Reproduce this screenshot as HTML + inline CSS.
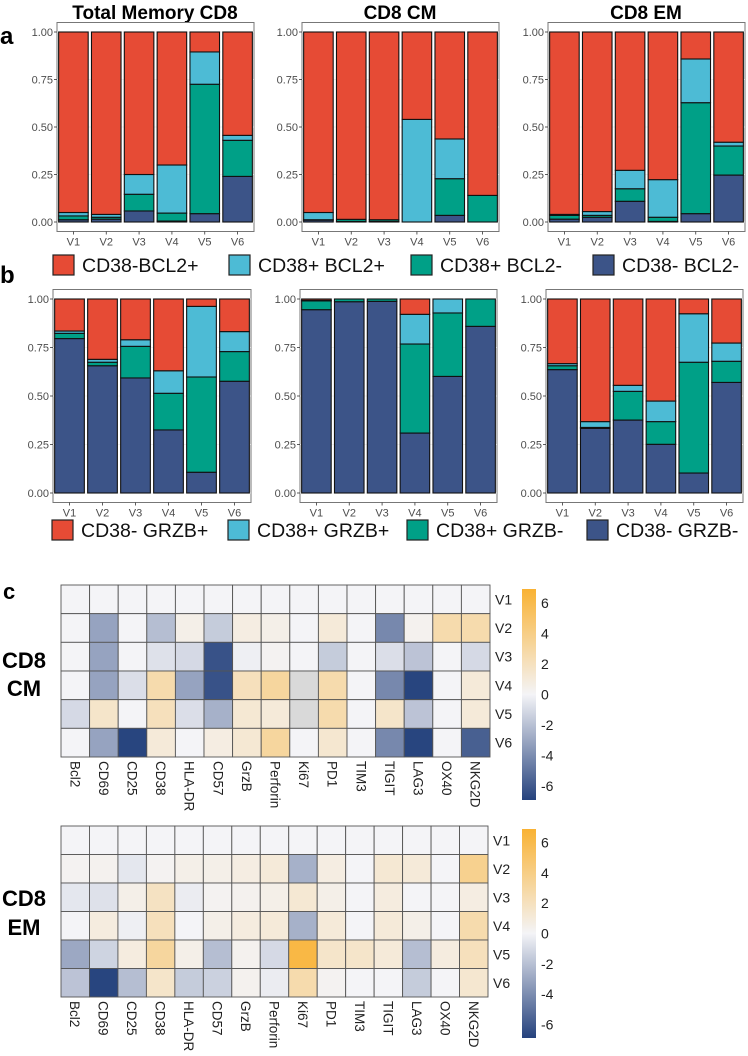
<!DOCTYPE html>
<html><head><meta charset="utf-8">
<style>
html,body{margin:0;padding:0;background:#fff;}
svg{display:block;font-family:"Liberation Sans",Arial,sans-serif;}
</style></head>
<body>
<svg id="fig" width="748" height="1056" viewBox="0 0 748 1056" xmlns="http://www.w3.org/2000/svg">
  <text x="0" y="44" font-size="24" font-weight="bold">a</text>
  <text x="0" y="283" font-size="24" font-weight="bold">b</text>
  <text x="3" y="599" font-size="22" font-weight="bold">c</text>
  <text x="155" y="19" font-size="19" font-weight="bold" text-anchor="middle">Total Memory CD8</text>
  <text x="400" y="19" font-size="19" font-weight="bold" text-anchor="middle">CD8 CM</text>
  <text x="646" y="19" font-size="19" font-weight="bold" text-anchor="middle">CD8 EM</text>
  <text x="24" y="668" font-size="22" font-weight="bold" text-anchor="middle">CD8</text>
  <text x="24" y="696" font-size="22" font-weight="bold" text-anchor="middle">CM</text>
  <text x="24" y="906" font-size="22" font-weight="bold" text-anchor="middle">CD8</text>
  <text x="24" y="935" font-size="22" font-weight="bold" text-anchor="middle">EM</text>
  <defs>
    <linearGradient id="cbar" x1="0" y1="0" x2="0" y2="1">
      <stop offset="0" stop-color="#F9B233"/>
      <stop offset="0.5" stop-color="#F4F4F7"/>
      <stop offset="1" stop-color="#25427D"/>
    </linearGradient>
  </defs>
</svg>
<script>
const categories = ['V1','V2','V3','V4','V5','V6'];
const yTicks = [0, 0.25, 0.5, 0.75, 1];
const yTickLabels = ['0.00','0.25','0.50','0.75','1.00'];
// panel a (BCL2) stacks: navy = CD38- BCL2-, green = CD38+ BCL2-, cyan = CD38+ BCL2+, red = CD38-BCL2+
const a1Navy = [0.012, 0.015, 0.058, 0.005, 0.044, 0.24];
const a1Green = [0.02, 0.01, 0.088, 0.042, 0.681, 0.19];
const a1Cyan = [0.018, 0.015, 0.104, 0.253, 0.17, 0.026];
const a1Red = [0.95, 0.96, 0.75, 0.70, 0.105, 0.544];
const a2Navy = [0.01, 0.003, 0.003, 0, 0.035, 0];
const a2Green = [0.002, 0.011, 0.009, 0, 0.193, 0.14];
const a2Cyan = [0.038, 0, 0, 0.54, 0.209, 0];
const a2Red = [0.95, 0.986, 0.988, 0.46, 0.563, 0.86];
const a3Navy = [0.015, 0.025, 0.109, 0.003, 0.044, 0.247];
const a3Green = [0.02, 0.01, 0.066, 0.022, 0.584, 0.153];
const a3Cyan = [0.005, 0.02, 0.097, 0.198, 0.23, 0.02];
const a3Red = [0.96, 0.945, 0.728, 0.777, 0.142, 0.58];
// panel b (GRZB)
const b1Navy = [0.796, 0.656, 0.593, 0.325, 0.107, 0.576];
const b1Green = [0.027, 0.018, 0.163, 0.189, 0.491, 0.153];
const b1Cyan = [0.012, 0.015, 0.034, 0.116, 0.364, 0.103];
const b1Red = [0.165, 0.311, 0.21, 0.37, 0.038, 0.168];
const b2Navy = [0.945, 0.986, 0.988, 0.309, 0.601, 0.859];
const b2Green = [0.045, 0.014, 0.012, 0.459, 0.327, 0.141];
const b2Cyan = [0.003, 0, 0, 0.153, 0.072, 0];
const b2Red = [0.007, 0, 0, 0.079, 0, 0];
const b3Navy = [0.636, 0.333, 0.376, 0.251, 0.103, 0.57];
const b3Green = [0.02, 0.005, 0.148, 0.117, 0.571, 0.109];
const b3Cyan = [0.011, 0.03, 0.031, 0.106, 0.25, 0.094];
const b3Red = [0.333, 0.632, 0.445, 0.526, 0.076, 0.227];

const markers = ['Bcl2','CD69','CD25','CD38','HLA-DR','CD57','GrzB','Perforin','Ki67','PD1','TIM3','TIGIT','LAG3','OX40','NKG2D'];
const heatRows = ['V1','V2','V3','V4','V5','V6'];
const cbTicks = [6,4,2,0,-2,-4,-6];
const cmV1 = [0,0,0,0,0,0,0,0,0,0,0,0,0,0,0];
const cmV2 = [0,-3,0,-2,0.5,-1.5,0.7,0.5,0,1,0,-4,0.3,2.5,2.5];
const cmV3 = [0,-3,0,-0.7,-1,-6,-0.2,0.2,0,-1.5,0,-0.8,-1.8,0,-1];
const cmV4 = [0,-3,-0.8,2.5,-3,-6,2,3,null,2.5,0,-4,-6.5,0,1];
const cmV5 = [-1,1.5,0,2,-0.8,-2.5,1.2,1,null,2.5,0,1.5,-1.8,0,1];
const cmV6 = [0,-3,-6.5,1,0,0.7,1.2,3,0,1.3,0,-4,-6.5,0,-5.5];
const emV1 = [0,0,0,0,0,0,0,0,0,0,0,0,0,0,0];
const emV2 = [0.2,0.3,-0.5,0.2,0.5,0.5,0.7,1,-2.5,0.7,0,1.2,1,0,3.5];
const emV3 = [-0.5,-0.7,0.5,1.8,-0.3,0.2,0.3,0.5,1.2,0.5,0,0.8,0,0,0.7];
const emV4 = [0,0.8,-0.2,2,0,0.5,0.8,1,-2.5,1,0,1,0.5,0,2.5];
const emV5 = [-2.8,-1.2,0.8,3,0.5,-2,0.3,-1,6,1.5,1.5,1,-2,0.8,2];
const emV6 = [-1.8,-6.5,-2,1.5,-1.5,-1.3,0.3,-0.3,2.5,0.2,0,0,-1.5,0,1.3];

const NS = 'http://www.w3.org/2000/svg';
const svg = document.getElementById('fig');
const COLORS = {navy:'#3C5488', green:'#00A087', cyan:'#4DBBD5', red:'#E64B35'};
function mk(tag, attrs, parent){
  const e = document.createElementNS(NS, tag);
  for (const k in attrs) e.setAttribute(k, attrs[k]);
  (parent||svg).appendChild(e);
  return e;
}

function stacked(name, x0, x1, yTop, yBot, navy, green, cyan, red){
  const g = mk('g', {});
  
  
  const pad = 9.5;
  const border = mk('rect', {x:x0, y:yTop-pad, width:x1-x0, height:(yBot-yTop)+2*pad, fill:'#fff', stroke:'#777', 'stroke-width':1}, g);
  
  
  const ys = v => yBot - v*(yBot-yTop);
  const step = (x1-x0)/categories.length;
  yTicks.forEach((t,i)=>{
    const gl = mk('line', {x1:x0, x2:x1, y1:ys(t), y2:ys(t), stroke:'#ebebeb', 'stroke-width':0.8}, g);
    
    
    const tk = mk('line', {x1:x0-3, x2:x0, y1:ys(t), y2:ys(t), stroke:'#333', 'stroke-width':0.8}, g);
    
    
    const tl = mk('text', {x:x0-4, y:ys(t)+4, 'font-size':11, fill:'#4d4d4d', 'text-anchor':'end'}, g);
    tl.textContent = yTickLabels[i];
    
    
  });
  categories.forEach((c,i)=>{
    const cx = x0 + step*(i+0.5);
    const tk = mk('line', {x1:cx, x2:cx, y1:yBot+pad, y2:yBot+pad+3, stroke:'#333', 'stroke-width':0.8}, g);
    
    
    const tl = mk('text', {x:cx, y:yBot+pad+14, 'font-size':11, fill:'#4d4d4d', 'text-anchor':'middle'}, g);
    tl.textContent = c;
    
    
    const bw = step*0.9, bx = cx - bw/2;
    let acc = 0;
    [['navy',navy],['green',green],['cyan',cyan],['red',red]].forEach(([k,arr])=>{
      const v = arr[i];
      if (v <= 0) return;
      const r = mk('rect', {x:bx, y:ys(acc+v), width:bw, height:ys(acc)-ys(acc+v), fill:COLORS[k], stroke:'#111', 'stroke-width':1.1}, g);
      
      
      acc += v;
    });
  });
}
stacked('chart-total-memory-bcl2', 57, 254, 32, 222, a1Navy, a1Green, a1Cyan, a1Red);
stacked('chart-cm-bcl2', 302, 499, 32, 222, a2Navy, a2Green, a2Cyan, a2Red);
stacked('chart-em-bcl2', 548, 745, 32, 222, a3Navy, a3Green, a3Cyan, a3Red);
stacked('chart-total-memory-grzb', 53, 251, 299, 493, b1Navy, b1Green, b1Cyan, b1Red);
stacked('chart-cm-grzb', 300, 497, 299, 493, b2Navy, b2Green, b2Cyan, b2Red);
stacked('chart-em-grzb', 546, 743, 299, 493, b3Navy, b3Green, b3Cyan, b3Red);

function legend(name, y, items){
  const g = mk('g', {});
  
  
  items.forEach(([bx, label, col])=>{
    const r = mk('rect', {x:bx, y:y-10, width:21, height:20, fill:COLORS[col], stroke:'#222', 'stroke-width':1.2}, g);
    
    
    const t = mk('text', {x:bx+29, y:y+7, 'font-size':19.5, fill:'#111'}, g);
    t.textContent = label;
    
    
  });
}
legend('legend-bcl2', 265, [[53,'CD38-BCL2+','red'],[229,'CD38+ BCL2+','cyan'],[411,'CD38+ BCL2-','green'],[593,'CD38- BCL2-','navy']]);
legend('legend-grzb', 530, [[52,'CD38- GRZB+','red'],[228,'CD38+ GRZB+','cyan'],[407,'CD38+ GRZB-','green'],[587,'CD38- GRZB-','navy']]);

function heatColor(v){
  if (v === null) return '#D9D9D9';
  const w = [244,244,247], pos = [249,178,51], neg = [37,66,125];
  const t = Math.min(1, Math.abs(v)/6.6);
  const e = v >= 0 ? pos : neg;
  const c = w.map((a,i)=>Math.round(a + (e[i]-a)*t));
  return 'rgb(' + c.join(',') + ')';
}
function heatmap(name, x0, x1, y0, y1, rows, cbY0, cbY1){
  const g = mk('g', {});
  
  
  const cw = (x1-x0)/markers.length, rh = (y1-y0)/heatRows.length;
  rows.forEach((row, r)=>{
    row.forEach((v, c)=>{
      const cell = mk('rect', {x:x0+c*cw, y:y0+r*rh, width:cw, height:rh, fill:heatColor(v), stroke:'#555', 'stroke-width':0.9}, g);
      
      
    });
    const rl = mk('text', {x:x1+5, y:y0+r*rh+rh/2+5, 'font-size':14, fill:'#222'}, g);
    rl.textContent = heatRows[r];
    
    
  });
  markers.forEach((m, c)=>{
    const cx = x0 + c*cw + cw/2 - 5;
    const t = mk('text', {x:0, y:0, 'font-size':13.5, fill:'#222', transform:'translate(' + cx + ',' + (y1+4) + ') rotate(90)'}, g);
    t.textContent = m;
    
    
  });
  const cb = mk('rect', {x:522, y:cbY0, width:14, height:cbY1-cbY0, fill:'url(#cbar)'}, g);
  
  
  const mid = (cbY0+cbY1)/2, per = (cbY1-cbY0)/2/6.9;
  cbTicks.forEach(v=>{
    const t = mk('text', {x:541, y:mid - v*per + 5, 'font-size':14, fill:'#222'}, g);
    t.textContent = String(v);
    
    
  });
}
heatmap('heatmap-cd8-cm', 61, 490, 585, 757, [cmV1,cmV2,cmV3,cmV4,cmV5,cmV6], 589, 800);
heatmap('heatmap-cd8-em', 61, 488, 826, 997, [emV1,emV2,emV3,emV4,emV5,emV6], 829, 1038);
</script>
</body></html>
